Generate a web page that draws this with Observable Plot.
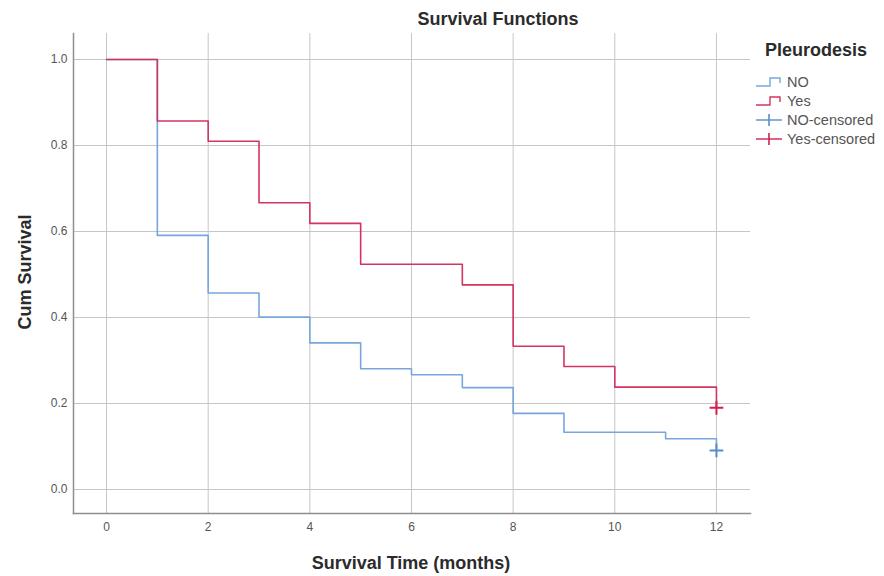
<!DOCTYPE html>
<html>
<head>
<meta charset="utf-8">
<script src="https://cdn.jsdelivr.net/npm/d3@7"></script>
<script src="https://cdn.jsdelivr.net/npm/@observablehq/plot@0.6"></script>
<style>
  html, body { margin: 0; padding: 0; background: #fff; }
  #wrap { position: relative; width: 884px; height: 576px; font-family: "Liberation Sans", Arial, sans-serif; }
  #wrap > svg { position: absolute; left: 0; top: 0; }
  .t { position: absolute; white-space: nowrap; color: #2b2b2b; }
  .title { font-weight: bold; font-size: 18px; transform: translate(-50%, -50%); }
  .xlab { font-weight: bold; font-size: 18px; transform: translate(-50%, -50%); }
  .ylab { font-weight: bold; font-size: 18px; transform: translate(-50%, -50%) rotate(-90deg); }
  .legtitle { font-weight: bold; font-size: 18px; transform: translateY(-50%); }
  .legitem { font-size: 14.5px; color: #555; transform: translateY(-50%); display: flex; align-items: center; }
  #wrap .legitem svg { position: static; margin-right: 4px; flex: none; }
</style>
</head>
<body>
<div id="wrap"></div>
<script>
// ---- data ----
const monthTicks = [0, 2, 4, 6, 8, 10, 12];
const survTicks = [0, 0.2, 0.4, 0.6, 0.8, 1.0];

const groups = ["NO", "Yes"];
const noTime = [0, 1, 2, 3, 4, 5, 6, 7, 8, 9, 11, 12];
const noSurv = [1.0, 0.591, 0.457, 0.401, 0.341, 0.281, 0.267, 0.237, 0.177, 0.133, 0.118, 0.091];
const yesTime = [0, 1, 2, 3, 4, 5, 7, 8, 9, 10, 12];
const yesSurv = [1.0, 0.857, 0.810, 0.667, 0.619, 0.524, 0.476, 0.333, 0.286, 0.238, 0.190];
const censorGroup = ["NO", "Yes"];
const censorTime = [12, 12];
const censorSurv = [0.091, 0.190];

const colors = { NO: "#78a6dc", Yes: "#d3345f" };
const censorColors = { NO: "#5b8cc6", Yes: "#d0204f" };

// ---- build tables ----
const noData = noTime.map((t, i) => ({ t, s: noSurv[i], g: "NO" }));
const yesData = yesTime.map((t, i) => ({ t, s: yesSurv[i], g: "Yes" }));
const censored = censorTime.map((t, i) => ({ t, s: censorSurv[i], g: censorGroup[i] }));

const gridColor = "#c6c6c6";
const axisColor = "#8e8e8e";

const chart = Plot.plot({
  width: 884,
  height: 576,
  marginLeft: 73,
  marginRight: 134,
  marginTop: 33,
  marginBottom: 63,
  style: { fontFamily: "Liberation Sans, Arial, sans-serif", fontSize: "12px", color: "#555", background: "white" },
  x: { domain: [-0.65, 12.67], label: null },
  y: { domain: [-0.0558, 1.0605], label: null },
  marks: [
    Plot.ruleX(monthTicks, { stroke: gridColor, strokeWidth: 1 }),
    Plot.ruleY(survTicks, { stroke: gridColor, strokeWidth: 1 }),
    Plot.frame({ anchor: "left", stroke: axisColor, strokeWidth: 1.5 }),
    Plot.frame({ anchor: "bottom", stroke: axisColor, strokeWidth: 1.5 }),
    Plot.line(noData, { x: "t", y: "s", curve: "step-after", stroke: colors.NO, strokeWidth: 1.6 }),
    Plot.line(yesData, { x: "t", y: "s", curve: "step-after", stroke: colors.Yes, strokeWidth: 1.6 }),
    Plot.dot(censored, { x: "t", y: "s", symbol: "plus", r: 4.5, stroke: d => censorColors[d.g], strokeWidth: 2 }),
    Plot.axisX(monthTicks, { tickSize: 0, tickPadding: 9, label: null, fill: "#555" }),
    Plot.axisY(survTicks, { tickSize: 0, tickPadding: 6, label: null, tickFormat: d => d.toFixed(1), fill: "#555" })
  ]
});

const wrap = document.getElementById("wrap");
wrap.appendChild(chart);

function addText(cls, text, x, y) {
  const d = document.createElement("div");
  d.className = "t " + cls;
  d.textContent = text;
  d.style.left = x + "px";
  d.style.top = y + "px";
  wrap.appendChild(d);
  return d;
}
addText("title", "Survival Functions", 498, 19);
addText("xlab", "Survival Time (months)", 411, 563);
addText("ylab", "Cum Survival", 25, 272);
addText("legtitle", "Pleurodesis", 765, 50);

const legendItems = [
  { label: "NO", kind: "step", color: colors.NO },
  { label: "Yes", kind: "step", color: colors.Yes },
  { label: "NO-censored", kind: "censor", color: censorColors.NO },
  { label: "Yes-censored", kind: "censor", color: censorColors.Yes }
];
const rowY = [82, 101, 120, 139];
legendItems.forEach((it, i) => {
  const d = document.createElement("div");
  d.className = "t legitem";
  d.style.left = "756px";
  d.style.top = rowY[i] + "px";
  const icon = it.kind === "step"
    ? `<svg width="27" height="14"><polyline points="0,11 14,11 14,3 24,3 24,8" fill="none" stroke="${it.color}" stroke-width="1.4"/></svg>`
    : `<svg width="27" height="14"><line x1="0" y1="7" x2="26" y2="7" stroke="${it.color}" stroke-width="1.4"/><line x1="13" y1="1" x2="13" y2="13" stroke="${it.color}" stroke-width="1.6"/></svg>`;
  d.innerHTML = icon + "<span>" + it.label + "</span>";
  wrap.appendChild(d);
});
</script>
</body>
</html>
